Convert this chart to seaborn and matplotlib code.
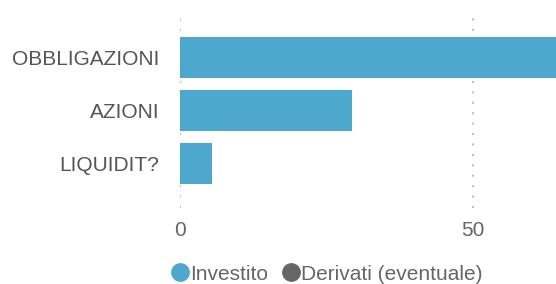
import matplotlib
matplotlib.use("Agg")
import matplotlib.pyplot as plt
from matplotlib.lines import Line2D
import seaborn as sns
import pandas as pd

categories = ["OBBLIGAZIONI", "AZIONI", "LIQUIDIT?"]
investito = [65, 29.3, 5.45]
series_names = ["Investito", "Derivati (eventuale)"]
series_colors = ["#4ea8cd", "#666666"]
x_ticks = [0, 50]

df = pd.DataFrame({"categoria": categories, "valore": investito})

sns.set_style("white")
plt.rcParams["font.family"] = ["Liberation Sans", "DejaVu Sans"]

fig = plt.figure(figsize=(5.56, 2.84), dpi=100)
ax = fig.add_axes([180 / 556, 1 - 208 / 284, 376 / 556, 193 / 284])

sns.barplot(data=df, x="valore", y="categoria", orient="h", color=series_colors[0],
            saturation=1, width=0.77, linewidth=0, ax=ax)

ax.set_xlim(0, 64.1)
ax.set_ylim(2.84, -0.8)
ax.set_xticks(x_ticks)
ax.set_xticklabels([str(t) for t in x_ticks])
for t in x_ticks:
    ax.axvline(t, color="#c0c0c0", linestyle=(0, (1, 4)), linewidth=1.5, zorder=0)
ax.set_xlabel("")
ax.set_ylabel("")
ax.tick_params(axis="x", length=0, pad=9, labelsize=15, labelcolor="#666666")
ax.tick_params(axis="y", length=0, pad=15, labelsize=15, labelcolor="#555555")
sns.despine(ax=ax, left=True, bottom=True)

handles = [Line2D([], [], marker="o", linestyle="", markersize=12.5, color=c) for c in series_colors]
fig.legend(handles, series_names, loc="center", bbox_to_anchor=(326 / 556, 1 - 274 / 284),
           ncol=2, frameon=False, fontsize=15, labelcolor="#666666",
           handletextpad=0.0, columnspacing=0.6, handlelength=1.0, borderaxespad=0)

fig.savefig("out.png", dpi=100)
